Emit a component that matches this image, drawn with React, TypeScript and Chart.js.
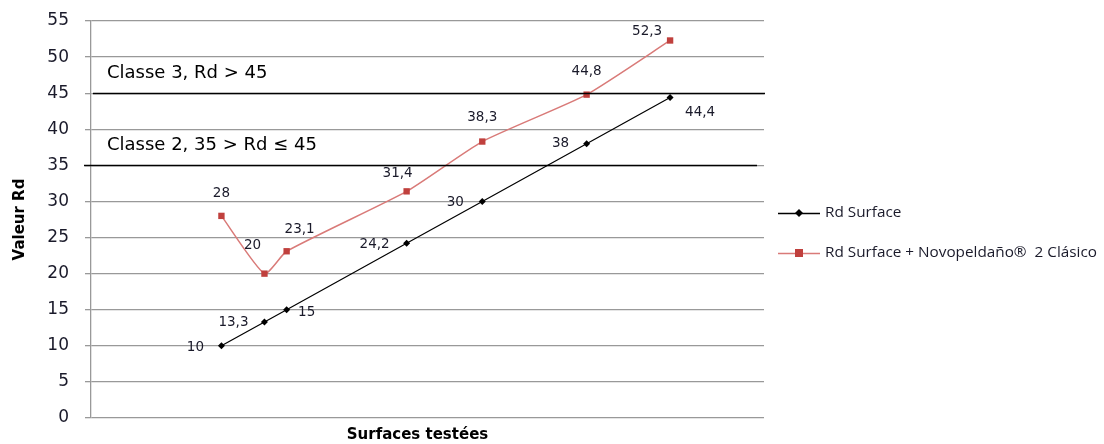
import React, { useEffect, useRef } from "react";
import { Chart, registerables } from "chart.js";

Chart.register(...registerables);

const surfaces = [10, 13.3, 15, 24.2, 30, 38, 44.4];
const rdSurface = [10, 13.3, 15, 24.2, 30, 38, 44.4];
const rdNovo = [28, 20, 23.1, 31.4, 38.3, 44.8, 52.3];
const yTicks = [0, 5, 10, 15, 20, 25, 30, 35, 40, 45, 50, 55];
const seriesNames = ["Rd Surface", "Rd Surface + Novopeldaño®  2 Clásico"];
const classLines = [35, 45];
const classLabels = [
  { text: "Classe 3, Rd > 45", value: 45 },
  { text: "Classe 2, 35 > Rd ≤ 45", value: 35 },
];

// label offsets (px) relative to each point
const blackOffsets = [[-26, 2], [-31, 1], [20, 3], [-32, 1], [-27, 1], [-26, 0], [30, 15]];
const redOffsets = [[0, -22], [-12, -28], [13, -22], [-9, -18], [0, -24], [0, -23], [-23, -9]];

const fmt = (v: number) => String(v).replace(".", ",");
const FONT = "'DejaVu Sans', Verdana, sans-serif";
const BLACK = "#000000";
const RED_LINE = "#d97a78";
const RED_PT = "#c0403d";

const overlay = {
  id: "overlay",
  afterDatasetsDraw(chart: any) {
    const { ctx, chartArea, scales } = chart;
    const y = scales.y;
    ctx.save();
    // class lines
    ctx.strokeStyle = "#000";
    ctx.lineWidth = 1.3;
    classLines.forEach((v, i) => {
      const py = Math.round(y.getPixelForValue(v)) + 0.5;
      ctx.beginPath();
      ctx.moveTo(i === 0 ? chartArea.left - 7 : chartArea.left + 2, py);
      ctx.lineTo(i === 0 ? chartArea.right - 7 : chartArea.right + 1, py);
      ctx.stroke();
    });
    // class labels
    ctx.fillStyle = "#000";
    ctx.font = `18px ${FONT}`;
    ctx.textAlign = "left";
    ctx.textBaseline = "middle";
    classLabels.forEach((c) => {
      ctx.fillText(c.text, chartArea.left + 16, y.getPixelForValue(c.value) - 20);
    });
    // data labels
    ctx.font = `13.5px ${FONT}`;
    ctx.fillStyle = "#1a1a2a";
    ctx.textAlign = "center";
    const draw = (di: number, vals: number[], offs: number[][]) => {
      const meta = chart.getDatasetMeta(di);
      meta.data.forEach((pt: any, i: number) => {
        ctx.fillText(fmt(vals[i]), pt.x + offs[i][0], pt.y + offs[i][1]);
      });
    };
    draw(0, rdSurface, blackOffsets);
    draw(1, rdNovo, redOffsets);
    ctx.restore();
  },
  afterDraw(chart: any) {
    const { ctx, chartArea } = chart;
    ctx.save();
    // axis titles
    ctx.fillStyle = "#000";
    ctx.font = `bold 15px ${FONT}`;
    ctx.textAlign = "center";
    ctx.textBaseline = "middle";
    ctx.fillText("Surfaces testées", (chartArea.left + chartArea.right) / 2 - 10, 435);
    ctx.translate(20, (chartArea.top + chartArea.bottom) / 2);
    ctx.rotate(-Math.PI / 2);
    ctx.fillText("Valeur Rd", 0, 0);
    ctx.restore();
    // legend
    ctx.save();
    const items = [
      { y: 213, line: BLACK, pt: BLACK, style: "diamond" },
      { y: 253, line: RED_LINE, pt: RED_PT, style: "square" },
    ];
    items.forEach((it, i) => {
      ctx.strokeStyle = it.line;
      ctx.lineWidth = 1.3;
      ctx.beginPath();
      ctx.moveTo(778, it.y + 0.5);
      ctx.lineTo(820, it.y + 0.5);
      ctx.stroke();
      ctx.fillStyle = it.pt;
      ctx.beginPath();
      if (it.style === "diamond") {
        ctx.moveTo(799, it.y - 4);
        ctx.lineTo(803, it.y);
        ctx.lineTo(799, it.y + 4);
        ctx.lineTo(795, it.y);
        ctx.closePath();
        ctx.fill();
      } else {
        ctx.fillRect(795, it.y - 4, 8, 8);
      }
      ctx.fillStyle = "#1a1a2a";
      ctx.font = `15.3px 'Open Sans', sans-serif`;
      ctx.textAlign = "left";
      ctx.textBaseline = "middle";
      ctx.fillText(seriesNames[i], 825, it.y);
    });
    ctx.restore();
  },
};

export default function App() {
  const ref = useRef<HTMLCanvasElement | null>(null);
  useEffect(() => {
    document.body.style.margin = "0";
    const chart = new Chart(ref.current as HTMLCanvasElement, {
      type: "scatter",
      data: {
        datasets: [
          {
            label: seriesNames[0],
            data: surfaces.map((x, i) => ({ x, y: rdSurface[i] })),
            showLine: true,
            borderColor: BLACK,
            backgroundColor: BLACK,
            borderWidth: 1.2,
            pointStyle: "rectRot",
            pointRadius: 3.5,
            pointBorderWidth: 0,
            tension: 0,
          },
          {
            label: seriesNames[1],
            data: surfaces.map((x, i) => ({ x, y: rdNovo[i] })),
            showLine: true,
            borderColor: RED_LINE,
            backgroundColor: RED_PT,
            borderWidth: 1.5,
            pointStyle: "rect",
            pointRadius: 4.5,
            pointBorderWidth: 0,
            tension: 0.18,
          },
        ],
      },
      options: {
        animation: false,
        responsive: true,
        maintainAspectRatio: false,
        layout: { padding: { top: 21, right: 340, left: 0, bottom: 0 } },
        plugins: { legend: { display: false }, tooltip: { enabled: false } },
        scales: {
          x: {
            type: "linear",
            min: 0,
            max: 51.6,
            grid: { display: false },
            border: { display: false },
            ticks: { display: false },
            afterFit: (s: any) => { s.height = 26; s.paddingLeft = 0; s.paddingRight = 0; },
          },
          y: {
            min: 0,
            max: 55,
            afterBuildTicks: (s: any) => { s.ticks = yTicks.map((v) => ({ value: v })); },
            grid: { color: "#999999", lineWidth: 1.3, tickLength: 6 },
            border: { color: "#999999", width: 1.3 },
            ticks: {
              color: "#1a1a2a",
              font: { family: FONT, size: 17 },
              padding: 16,
            },
            afterFit: (s: any) => { s.width = 91; s.paddingTop = 0; s.paddingBottom = 0; },
          },
        },
      },
      plugins: [overlay],
    });
    return () => chart.destroy();
  }, []);
  return (
    <div style={{ position: "relative", width: 1104, height: 444 }}>
      <canvas ref={ref} />
    </div>
  );
}
